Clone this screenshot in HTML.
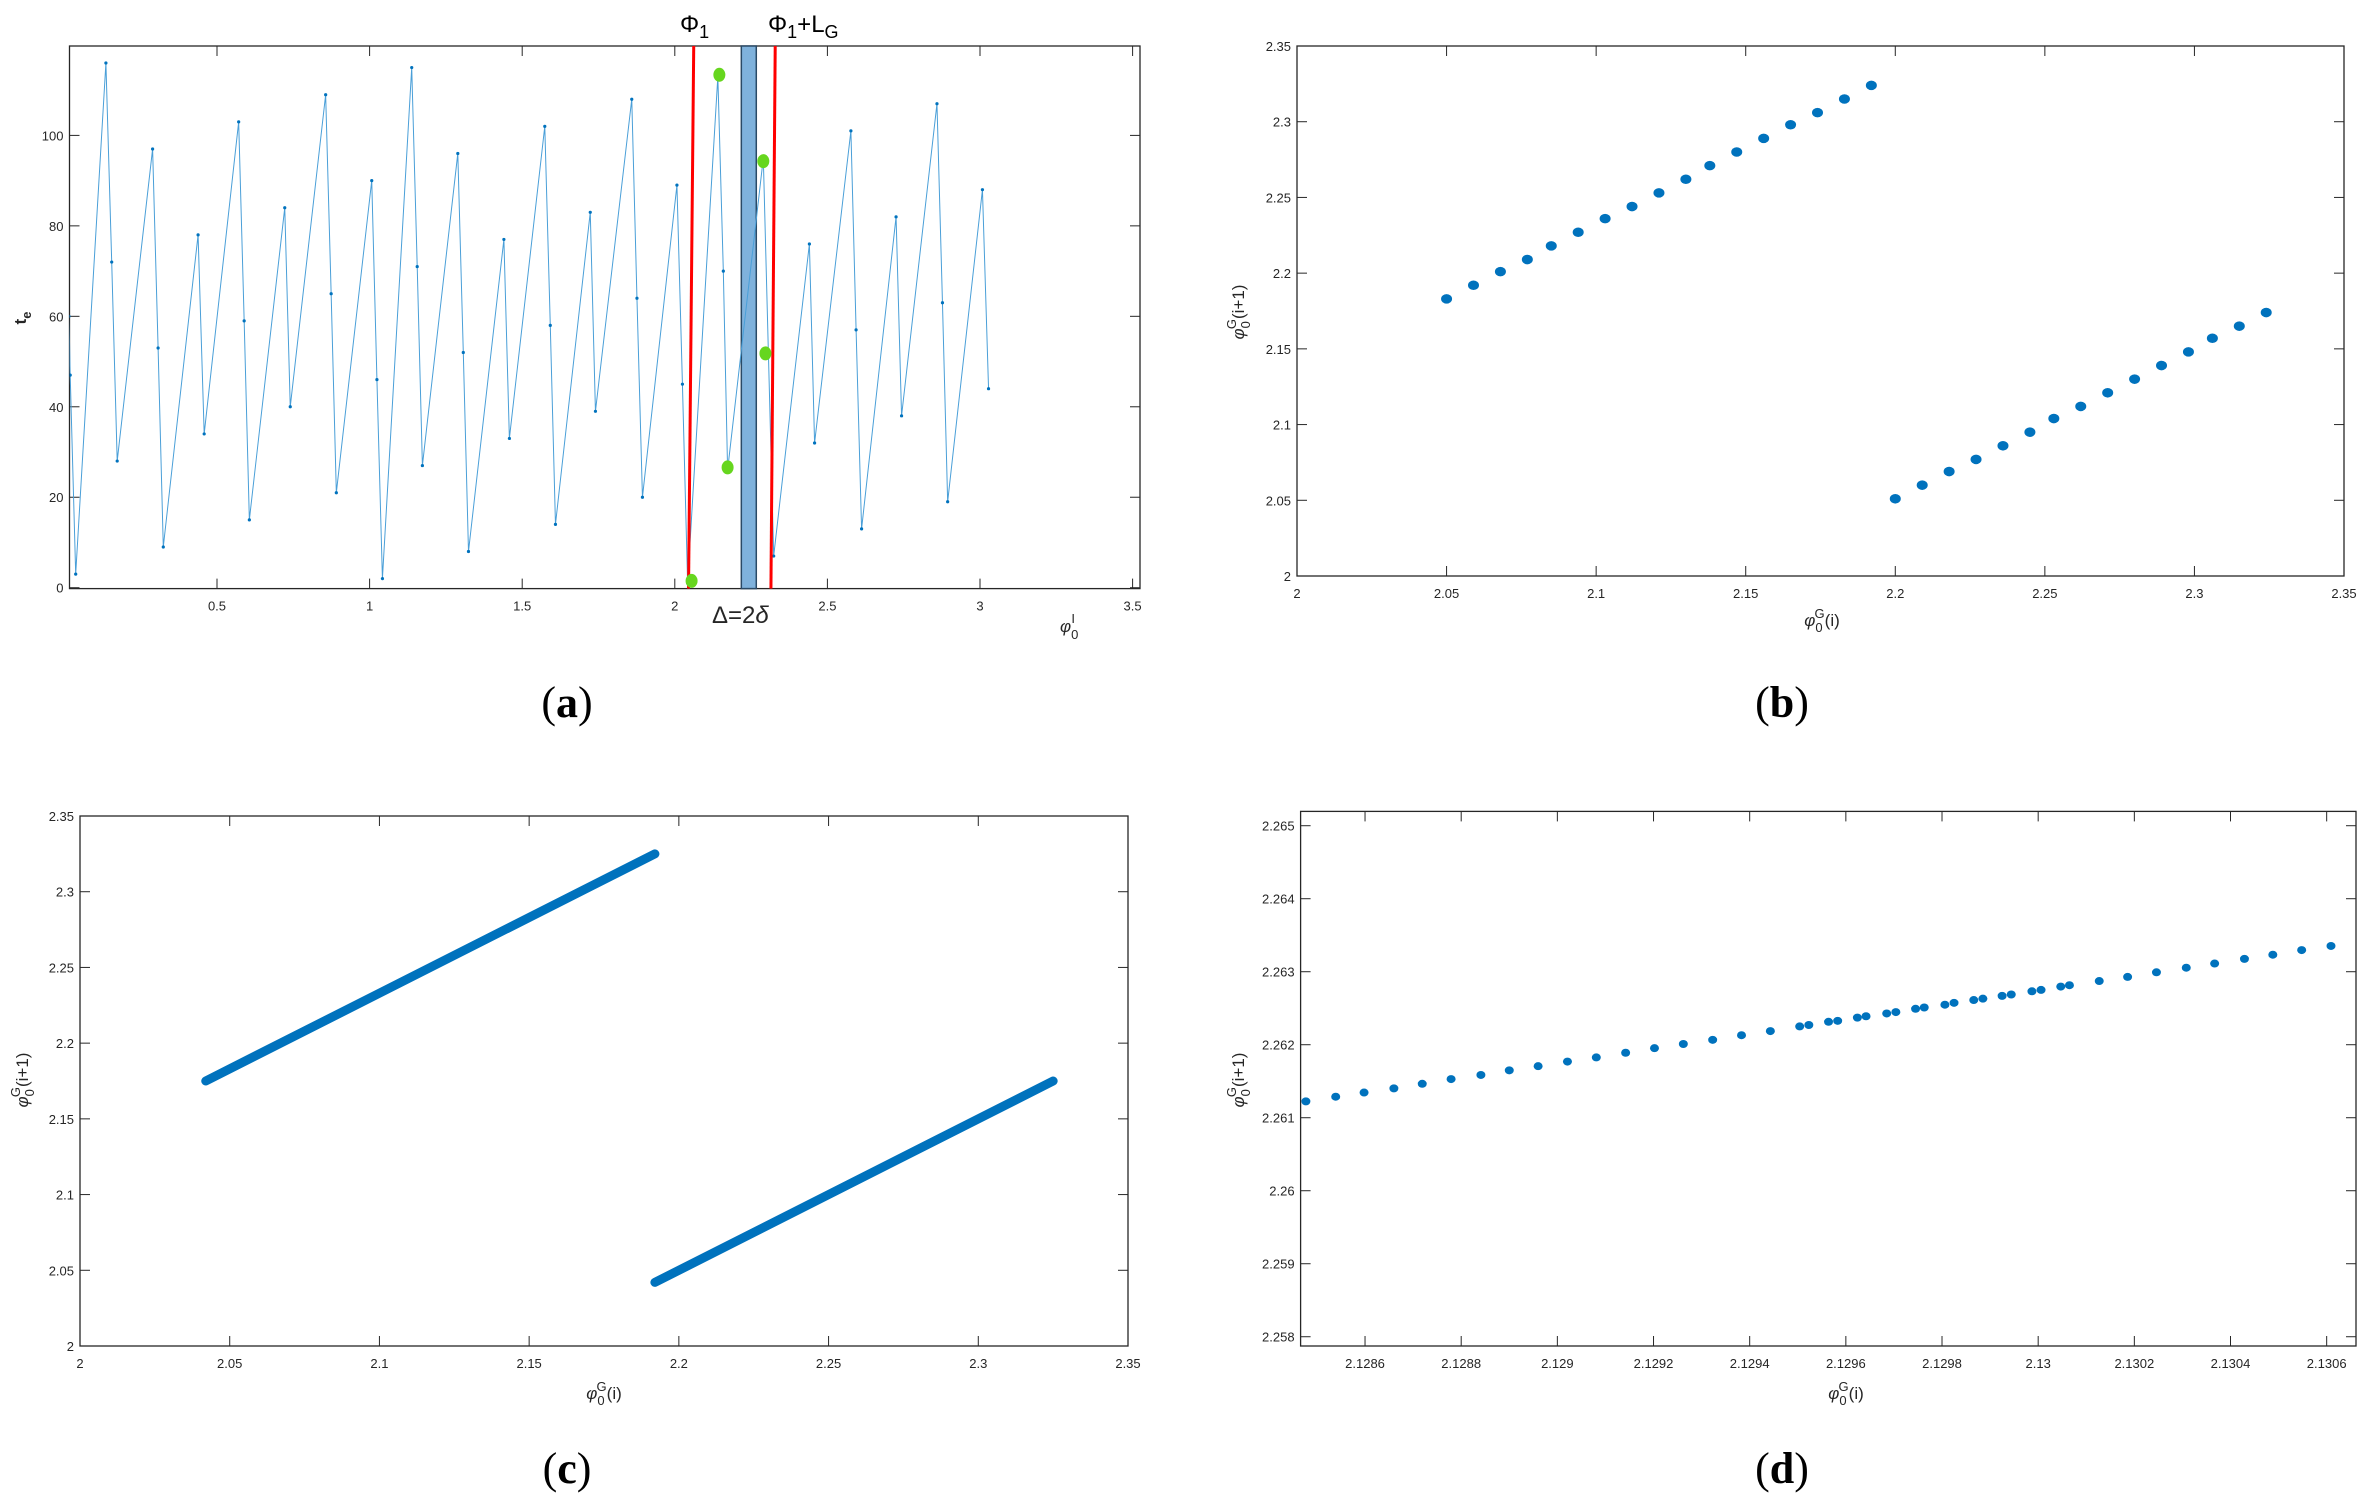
<!DOCTYPE html>
<html><head><meta charset="utf-8"><style>
html,body{margin:0;padding:0;background:#fff;}
svg{display:block;font-family:"Liberation Sans",sans-serif;}
.tk{font-size:13px;fill:#262626;}
.lbl{font-size:17px;fill:#262626;}
.cap{font-family:"Liberation Serif",serif;font-size:44px;fill:#000;}
</style></head><body>
<svg id="fig" width="2370" height="1505" viewBox="0 0 2370 1505" xmlns="http://www.w3.org/2000/svg"></svg>
<script>
// Panel (a) data
const aX=[0.015,0.019,0.037,0.136,0.155,0.173,0.289,0.307,0.324,0.438,0.458,0.571,0.589,0.606,0.722,0.740,0.856,0.874,0.891,1.007,1.024,1.042,1.138,1.156,1.173,1.289,1.307,1.324,1.440,1.458,1.574,1.592,1.609,1.723,1.740,1.859,1.876,1.894,2.007,2.025,2.042,2.141,2.159,2.173,2.290,2.307,2.324,2.441,2.458,2.577,2.594,2.612,2.725,2.743,2.859,2.877,2.894,3.008,3.028];
const aY=[60,47,3,116,72,28,97,53,9,78,34,103,59,15,84,40,109,65,21,90,46,2,115,71,27,96,52,8,77,33,102,58,14,83,39,108,64,20,89,45,1,113,70,26,95,51,7,76,32,101,57,13,82,38,107,63,19,88,44];
const greenX=[2.055,2.146,2.173,2.290,2.297];
const greenY=[1.5,113.4,26.6,94.3,51.8];
const redTopX=[2.062,2.329];
const redBotX=[2.045,2.315];
const bandX=[2.218,2.267];
const aXTicks=[0.5,1,1.5,2,2.5,3,3.5];
const aYTicks=[0,20,40,60,80,100];
// Panel (b) data
const bUpX=[2.050,2.059,2.068,2.077,2.085,2.094,2.103,2.112,2.121,2.130,2.138,2.147,2.156,2.165,2.174,2.183,2.192];
const bUpY=[2.183,2.192,2.201,2.209,2.218,2.227,2.236,2.244,2.253,2.262,2.271,2.280,2.289,2.298,2.306,2.315,2.324];
const bLoX=[2.200,2.209,2.218,2.227,2.236,2.245,2.253,2.262,2.271,2.280,2.289,2.298,2.306,2.315,2.324];
const bLoY=[2.051,2.060,2.069,2.077,2.086,2.095,2.104,2.112,2.121,2.130,2.139,2.148,2.157,2.165,2.174];
const bTicks=[2,2.05,2.1,2.15,2.2,2.25,2.3,2.35];
const bTickLabels=["2","2.05","2.1","2.15","2.2","2.25","2.3","2.35"];
// Panel (c) data (segment endpoints)
const cSegX1=[2.042,2.192];
const cSegY1=[2.175,2.042];
const cSegX2=[2.192,2.325];
const cSegY2=[2.325,2.175];
// Panel (d) data
const dX=[2.128477,2.128539,2.128598,2.128660,2.128719,2.128779,2.128841,2.128900,2.128960,2.129021,2.129081,2.129142,2.129202,2.129262,2.129323,2.129383,2.129443,2.129504,2.129523,2.129564,2.129583,2.129624,2.129642,2.129685,2.129704,2.129745,2.129763,2.129806,2.129825,2.129866,2.129885,2.129925,2.129944,2.129987,2.130006,2.130047,2.130065,2.130127,2.130186,2.130246,2.130308,2.130367,2.130429,2.130488,2.130548,2.130609];
const dY=[2.261224,2.261288,2.261345,2.261402,2.261465,2.261529,2.261586,2.261649,2.261706,2.261769,2.261826,2.261890,2.261953,2.262010,2.262067,2.262130,2.262187,2.262251,2.262270,2.262314,2.262327,2.262371,2.262390,2.262428,2.262447,2.262492,2.262510,2.262548,2.262574,2.262612,2.262631,2.262669,2.262688,2.262732,2.262751,2.262796,2.262815,2.262872,2.262929,2.262992,2.263055,2.263112,2.263176,2.263233,2.263296,2.263353];
const dXTicks=[2.1286,2.1288,2.129,2.1292,2.1294,2.1296,2.1298,2.13,2.1302,2.1304,2.1306];
const dXTickLabels=["2.1286","2.1288","2.129","2.1292","2.1294","2.1296","2.1298","2.13","2.1302","2.1304","2.1306"];
const dYTicks=[2.258,2.259,2.26,2.261,2.262,2.263,2.264,2.265];
const dYTickLabels=["2.258","2.259","2.26","2.261","2.262","2.263","2.264","2.265"];

const NS="http://www.w3.org/2000/svg";
const svg=document.getElementById('fig');
function el(tag,attrs,parent,text){const e=document.createElementNS(NS,tag);for(const k in attrs)e.setAttribute(k,attrs[k]);if(text!==undefined)e.textContent=text;(parent||svg).appendChild(e);return e;}
function scale(d0,d1,p0,p1){return v=>p0+(v-d0)/(d1-d0)*(p1-p0);}

function axes(name,L,R,T,B,xs,ys,xt,xl,yt,yl){
  const g=el('g',{});
  
  
  const box=el('rect',{x:L,y:T,width:R-L,height:B-T,fill:'none',stroke:'#262626','stroke-width':1.3},g);
  
  
  xt.forEach((v,i)=>{const x=xs(v);
    el('line',{x1:x,y1:B,x2:x,y2:B-10,stroke:'#262626','stroke-width':1},g);
    el('line',{x1:x,y1:T,x2:x,y2:T+10,stroke:'#262626','stroke-width':1},g);
    const t=el('text',{x:x,y:B+22,'text-anchor':'middle',class:'tk'},g,xl[i]);
    
    
  });
  yt.forEach((v,i)=>{const y=ys(v);
    el('line',{x1:L,y1:y,x2:L+10,y2:y,stroke:'#262626','stroke-width':1},g);
    el('line',{x1:R,y1:y,x2:R-10,y2:y,stroke:'#262626','stroke-width':1},g);
    const t=el('text',{x:L-6,y:y+5,'text-anchor':'end',class:'tk'},g,yl[i]);
    
    
  });
  return g;
}
function phiLabel(name,x,y,rot,sup,sub,rest){
  const t=el('text',{x:x,y:y,class:'lbl','text-anchor':'middle',transform:rot?`rotate(-90 ${x} ${y})`:''});
  
  
  el('tspan',{'font-style':'italic'},t,'φ');
  el('tspan',{dy:6,'font-size':13},t,sub);
  el('tspan',{dx:-8,dy:-14,'font-size':13},t,sup);
  el('tspan',{dy:8},t,rest);
  return t;
}
function caption(name,x,y,letter){
  const t=el('text',{x:x,y:y,class:'cap','text-anchor':'middle'});
  
  
  el('tspan',{},t,'(');
  el('tspan',{'font-weight':'bold'},t,letter);
  el('tspan',{},t,')');
}

// ---------- Panel (a)
{
const L=69.5,R=1140,T=46,B=588.6;
const xs=scale(0,3.5,64.4,1132.6), ys=scale(0,100,587.7,135.4);
axes('panel-a',L,R,T,B,xs,ys,aXTicks,aXTicks.map(String),aYTicks,aYTicks.map(String));
const clip=el('clipPath',{id:'clipA'});el('rect',{x:L,y:T,width:R-L,height:B-T},clip);
// band
const band=el('rect',{x:xs(bandX[0]),y:T,width:xs(bandX[1])-xs(bandX[0]),height:B-T,fill:'#7fb2dc',stroke:'#2a4a66','stroke-width':1.5});


const line=el('polyline',{points:aX.map((x,i)=>xs(x)+','+ys(aY[i])).join(' '),fill:'none',stroke:'#4a9fd8','stroke-width':1,'clip-path':'url(#clipA)'});


aX.forEach((x,i)=>{const c=el('circle',{cx:xs(x),cy:ys(aY[i]),r:1.6,fill:'#0072bd','clip-path':'url(#clipA)'});
  
  });
redTopX.forEach((x,i)=>{const r=el('line',{x1:xs(x),y1:T,x2:xs(redBotX[i]),y2:B,stroke:'#ff0000','stroke-width':3});
  
  });
greenX.forEach((x,i)=>{const c=el('ellipse',{cx:xs(x),cy:ys(greenY[i]),rx:6,ry:7,fill:'#66d61e'});
  
  });
let t=el('text',{x:680,y:32,'font-size':24,fill:'#000'});
el('tspan',{},t,'Φ');el('tspan',{dy:6,'font-size':18},t,'1');
t=el('text',{x:768,y:32,'font-size':24,fill:'#000'});
el('tspan',{},t,'Φ');el('tspan',{dy:6,'font-size':18},t,'1');el('tspan',{dy:-6},t,'+L');el('tspan',{dy:6,'font-size':18},t,'G');
t=el('text',{x:712,y:623,'font-size':24,fill:'#262626'},null,'Δ=2');
el('tspan',{'font-style':'italic'},t,'δ');
t=el('text',{x:1060,y:632,class:'lbl'});
el('tspan',{'font-style':'italic'},t,'φ');el('tspan',{dy:7,'font-size':13},t,'0');el('tspan',{dx:-7,dy:-16,'font-size':13},t,'I');
t=el('text',{x:26,y:318,class:'lbl','font-weight':'bold',transform:'rotate(-90 26 318)','text-anchor':'middle'});
el('tspan',{},t,'t');el('tspan',{dy:5,'font-size':13},t,'e');
caption('caption-a',567,717,'a');
}
// ---------- Panel (b)
{
const L=1297,R=2344,T=46,B=576;
const xs=scale(2,2.35,L,R), ys=scale(2,2.35,B,T);
axes('panel-b',L,R,T,B,xs,ys,bTicks,bTickLabels,bTicks,bTickLabels);
[[bUpX,bUpY,'upper'],[bLoX,bLoY,'lower']].forEach(([X,Y,n])=>X.forEach((x,i)=>{
  const c=el('ellipse',{cx:xs(x),cy:ys(Y[i]),rx:5.5,ry:4.8,fill:'#0072bd'});
  
  }));
phiLabel('x-axis-title-b',1822,626,false,'G','0','(i)');
phiLabel('y-axis-title-b',1244,312,true,'G','0','(i+1)');
caption('caption-b',1782,717,'b');
}
// ---------- Panel (c)
{
const L=80,R=1128,T=816,B=1346;
const xs=scale(2,2.35,L,R), ys=scale(2,2.35,B,T);
axes('panel-c',L,R,T,B,xs,ys,bTicks,bTickLabels,bTicks,bTickLabels);
cSegX1.forEach((x,i)=>{const s=el('line',{x1:xs(x),y1:ys(cSegY1[i]),x2:xs(cSegX2[i]),y2:ys(cSegY2[i]),stroke:'#0072bd','stroke-width':9,'stroke-linecap':'round'});
  
  });
phiLabel('x-axis-title-c',604,1399,false,'G','0','(i)');
phiLabel('y-axis-title-c',28,1080,true,'G','0','(i+1)');
caption('caption-c',567,1483,'c');
}
// ---------- Panel (d)
{
const L=1300.6,R=2356,T=811.4,B=1346;
const xs=scale(2.128466,2.130661,L,R), ys=scale(2.257873,2.265196,B,T);
axes('panel-d',L,R,T,B,xs,ys,dXTicks,dXTickLabels,dYTicks,dYTickLabels);
dX.forEach((x,i)=>{const c=el('ellipse',{cx:xs(x),cy:ys(dY[i]),rx:4.5,ry:4,fill:'#0072bd'});
  
  });
phiLabel('x-axis-title-d',1846,1399,false,'G','0','(i)');
phiLabel('y-axis-title-d',1244,1080,true,'G','0','(i+1)');
caption('caption-d',1782,1483,'d');
}
</script>
</body></html>
